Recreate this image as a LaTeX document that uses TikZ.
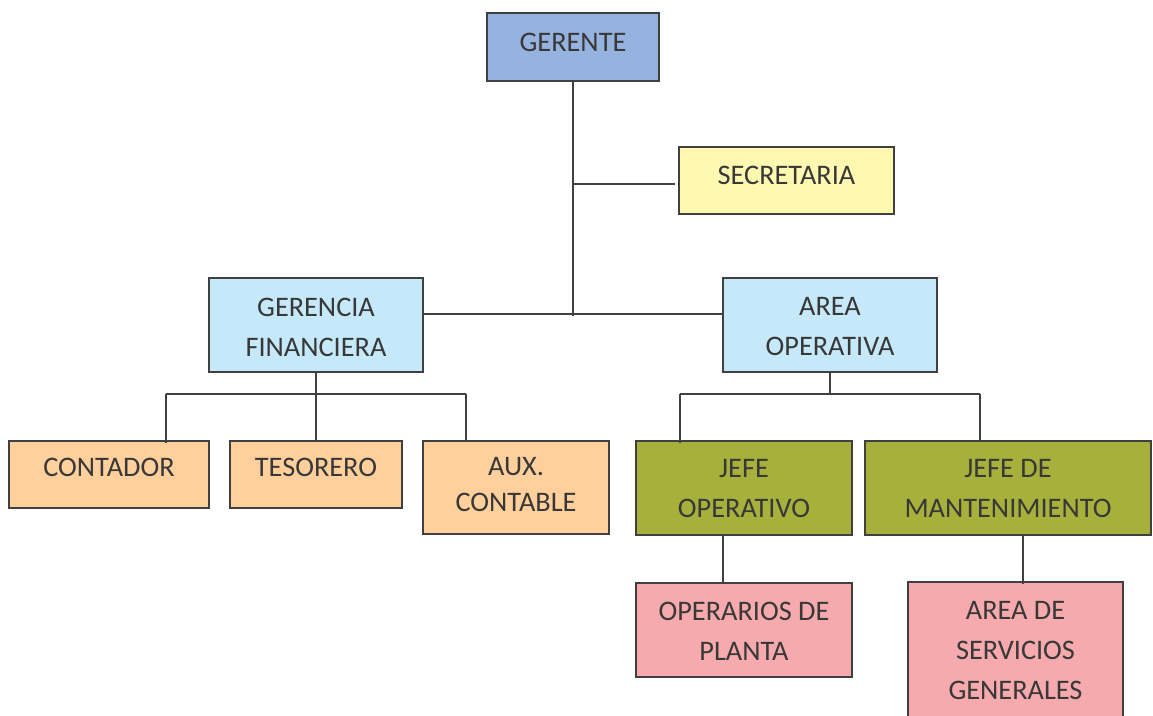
\documentclass[tikz,border=0pt]{standalone}
\usepackage{fontspec}
\setmainfont{Carlito}
\usetikzlibrary{calc}
\definecolor{txtc}{HTML}{383838}
\definecolor{linec}{HTML}{404040}
\definecolor{cblue}{HTML}{95B3DE}
\definecolor{cyel}{HTML}{FFF8B0}
\definecolor{clblue}{HTML}{C6E9F9}
\definecolor{corange}{HTML}{FFD09C}
\definecolor{colive}{HTML}{A7B03A}
\definecolor{cpink}{HTML}{F6AAAD}
\begin{document}
\begin{tikzpicture}[x=1pt,y=-1pt,
  orgbox/.style={draw=linec,line width=1.6pt,inner sep=0pt,rectangle},
  txt/.style={text=txtc,font=\fontsize{28.3}{40}\selectfont,align=center,inner sep=0pt},
  conn/.style={draw=linec,line width=1.6pt}]
\useasboundingbox (0,0) rectangle (1153,715);
% boxes
\node[orgbox,fill=cblue,minimum width=172pt,minimum height=68pt] (g) at (573,47) {};
\node[orgbox,fill=cyel,minimum width=215pt,minimum height=67pt] (s) at (786.5,180.5) {};
\node[orgbox,fill=clblue,minimum width=214pt,minimum height=94pt] (gf) at (316,325) {};
\node[orgbox,fill=clblue,minimum width=214pt,minimum height=94pt] (ao) at (830,325) {};
\node[orgbox,fill=corange,minimum width=200pt,minimum height=67pt] (c) at (109,474.5) {};
\node[orgbox,fill=corange,minimum width=172pt,minimum height=67pt] (t) at (316,474.5) {};
\node[orgbox,fill=corange,minimum width=186pt,minimum height=93pt] (ax) at (516,487.5) {};
\node[orgbox,fill=colive,minimum width=216pt,minimum height=94pt] (jo) at (744,488) {};
\node[orgbox,fill=colive,minimum width=286pt,minimum height=94pt] (jm) at (1008,488) {};
\node[orgbox,fill=cpink,minimum width=216pt,minimum height=94pt] (op) at (744,630) {};
\node[orgbox,fill=cpink,minimum width=215pt,minimum height=158pt] (as) at (1015.5,661) {};
% texts
\node[txt] (tg) at (573,42) {GERENTE};
\node[txt] (ts) at (786.5,175) {SECRETARIA};
\node[txt] (tgf) at (316,327) {GERENCIA\\FINANCIERA};
\node[txt] (tao) at (830,327) {AREA\\OPERATIVA};
\node[txt] (tc) at (109,467) {CONTADOR};
\node[txt] (tt) at (316,467) {TESORERO};
\node[txt,font=\fontsize{28.3}{36}\selectfont] (tax) at (516,485) {AUX.\\CONTABLE};
\node[txt] (tjo) at (744,489) {JEFE\\OPERATIVO};
\node[txt] (tjm) at (1008,489) {JEFE DE\\MANTENIMIENTO};
\node[txt] (top) at (744,631) {OPERARIOS DE\\PLANTA};
\node[txt] (tas) at (1015.5,651) {AREA DE\\SERVICIOS\\GENERALES};
% junction coordinates
\coordinate (j1) at (573,316);
\coordinate (sj) at (574,184);
\coordinate (se) at (675,184);
\coordinate (hl) at (423,314);
\coordinate (hr) at (723,314);
\coordinate (fb) at (316,394);
\coordinate (fl) at (166,394);
\coordinate (fr) at (466,394);
\coordinate (cl) at (166,443);
\coordinate (tr) at (466,441);
\coordinate (ob) at (830,394);
\coordinate (ol) at (680,394);
\coordinate (or) at (980,394);
\coordinate (jl) at (680,443);
\coordinate (jr) at (980,441);
% connectors
\draw[conn] (g.south) -- (j1);
\draw[conn] (sj) -- (se);
\draw[conn] (hl) -- (hr);
\draw[conn] (gf.south) -- (fb);
\draw[conn] (fl) -- (fr);
\draw[conn] (fl) -- (cl);
\draw[conn] (fb) -- (t.north);
\draw[conn] (fr) -- (tr);
\draw[conn] (ao.south) -- (ob);
\draw[conn] (ol) -- (or);
\draw[conn] (ol) -- (jl);
\draw[conn] (or) -- (jr);
\draw[conn] ($(jo.south)+(-21,0)$) -- ($(op.north)+(-21,0)$);
\draw[conn] ($(jm.south)+(15,0)$) -- ($(jm.south)+(15,48)$);
\end{tikzpicture}
\end{document}
